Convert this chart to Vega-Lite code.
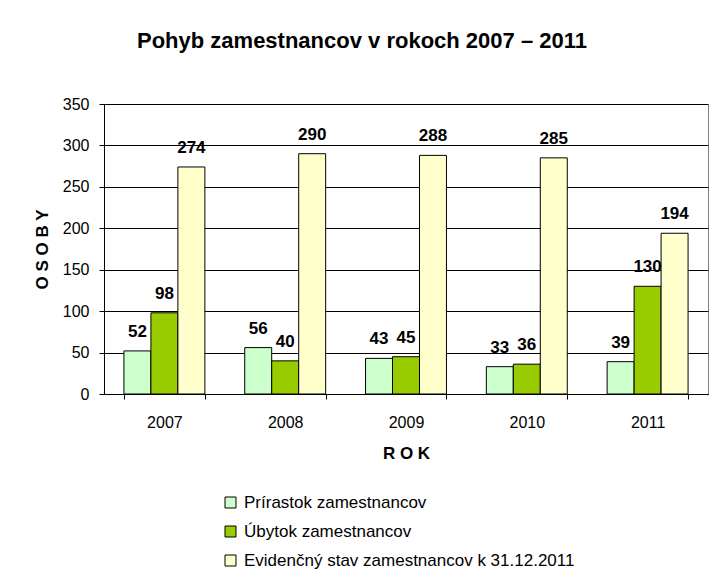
{
  "$schema": "https://vega.github.io/schema/vega-lite/v6.json",
  "width": 604,
  "height": 290,
  "autosize": {"type": "none"},
  "padding": {"left": 104, "top": 104, "right": 1, "bottom": 180},
  "background": "white",
  "title": {
    "text": "Pohyb zamestnancov v rokoch 2007 – 2011",
    "font": "Liberation Sans",
    "fontSize": 22,
    "fontWeight": "bold",
    "color": "black",
    "anchor": "middle",
    "dx": -44,
    "offset": 43
  },
  "data": {
    "values": [
      {"rok": "2007", "kategoria": "Prírastok zamestnancov", "osoby": 52},
      {"rok": "2007", "kategoria": "Úbytok zamestnancov", "osoby": 98},
      {"rok": "2007", "kategoria": "Evidenčný stav zamestnancov k 31.12.2011", "osoby": 274},
      {"rok": "2008", "kategoria": "Prírastok zamestnancov", "osoby": 56},
      {"rok": "2008", "kategoria": "Úbytok zamestnancov", "osoby": 40},
      {"rok": "2008", "kategoria": "Evidenčný stav zamestnancov k 31.12.2011", "osoby": 290},
      {"rok": "2009", "kategoria": "Prírastok zamestnancov", "osoby": 43},
      {"rok": "2009", "kategoria": "Úbytok zamestnancov", "osoby": 45},
      {"rok": "2009", "kategoria": "Evidenčný stav zamestnancov k 31.12.2011", "osoby": 288},
      {"rok": "2010", "kategoria": "Prírastok zamestnancov", "osoby": 33},
      {"rok": "2010", "kategoria": "Úbytok zamestnancov", "osoby": 36},
      {"rok": "2010", "kategoria": "Evidenčný stav zamestnancov k 31.12.2011", "osoby": 285},
      {"rok": "2011", "kategoria": "Prírastok zamestnancov", "osoby": 39},
      {"rok": "2011", "kategoria": "Úbytok zamestnancov", "osoby": 130},
      {"rok": "2011", "kategoria": "Evidenčný stav zamestnancov k 31.12.2011", "osoby": 194}
    ]
  },
  "encoding": {
    "x": {
      "field": "rok",
      "type": "nominal",
      "scale": {"paddingInner": 0.33, "paddingOuter": 0.165},
      "axis": {
        "title": "R O K",
        "titleFont": "Liberation Sans",
        "titleFontSize": 17,
        "titleFontWeight": "bold",
        "titleColor": "black",
        "titlePadding": 15,
        "labelFont": "Liberation Sans",
        "labelFontSize": 16,
        "labelColor": "black",
        "labelAngle": 0,
        "labelPadding": 15,
        "tickSize": 5,
        "tickColor": "black",
        "tickBand": "extent",
        "domainColor": "black",
        "grid": false
      }
    },
    "xOffset": {
      "field": "kategoria",
      "type": "nominal",
      "sort": ["Prírastok zamestnancov", "Úbytok zamestnancov", "Evidenčný stav zamestnancov k 31.12.2011"]
    },
    "y": {
      "field": "osoby",
      "type": "quantitative",
      "scale": {"domain": [0, 350]},
      "axis": {
        "values": [0, 50, 100, 150, 200, 250, 300, 350],
        "title": "O S O B Y",
        "titleFont": "Liberation Sans",
        "titleFontSize": 17,
        "titleFontWeight": "bold",
        "titleColor": "black",
        "titlePadding": 11,
        "labelFont": "Liberation Sans",
        "labelFontSize": 16,
        "labelColor": "black",
        "labelPadding": 10,
        "tickSize": 5,
        "tickColor": "black",
        "domainColor": "black",
        "grid": true,
        "gridColor": "black",
        "gridWidth": 1
      }
    }
  },
  "layer": [
    {
      "mark": {"type": "bar", "stroke": "black", "strokeWidth": 1},
      "encoding": {
        "color": {
          "field": "kategoria",
          "type": "nominal",
          "scale": {
            "domain": ["Prírastok zamestnancov", "Úbytok zamestnancov", "Evidenčný stav zamestnancov k 31.12.2011"],
            "range": ["#CCFFCC", "#99CC00", "#FFFFCC"]
          },
          "legend": {
            "title": null,
            "orient": "none",
            "legendX": 118,
            "legendY": 390,
            "direction": "vertical",
            "padding": 0,
            "symbolType": "square",
            "symbolSize": 121,
            "symbolStrokeColor": "black",
            "symbolStrokeWidth": 1,
            "labelFont": "Liberation Sans",
            "labelFontSize": 17,
            "labelColor": "black",
            "labelOffset": 5,
            "rowPadding": 11,
            "labelLimit": 400
          }
        }
      }
    },
    {
      "mark": {"type": "text", "dy": -14, "fontWeight": "bold", "fontSize": 17, "font": "Liberation Sans", "color": "black", "baseline": "alphabetic"},
      "encoding": {"text": {"field": "osoby", "type": "quantitative"}}
    }
  ],
  "config": {
    "view": {"stroke": "#808080"}
  }
}
